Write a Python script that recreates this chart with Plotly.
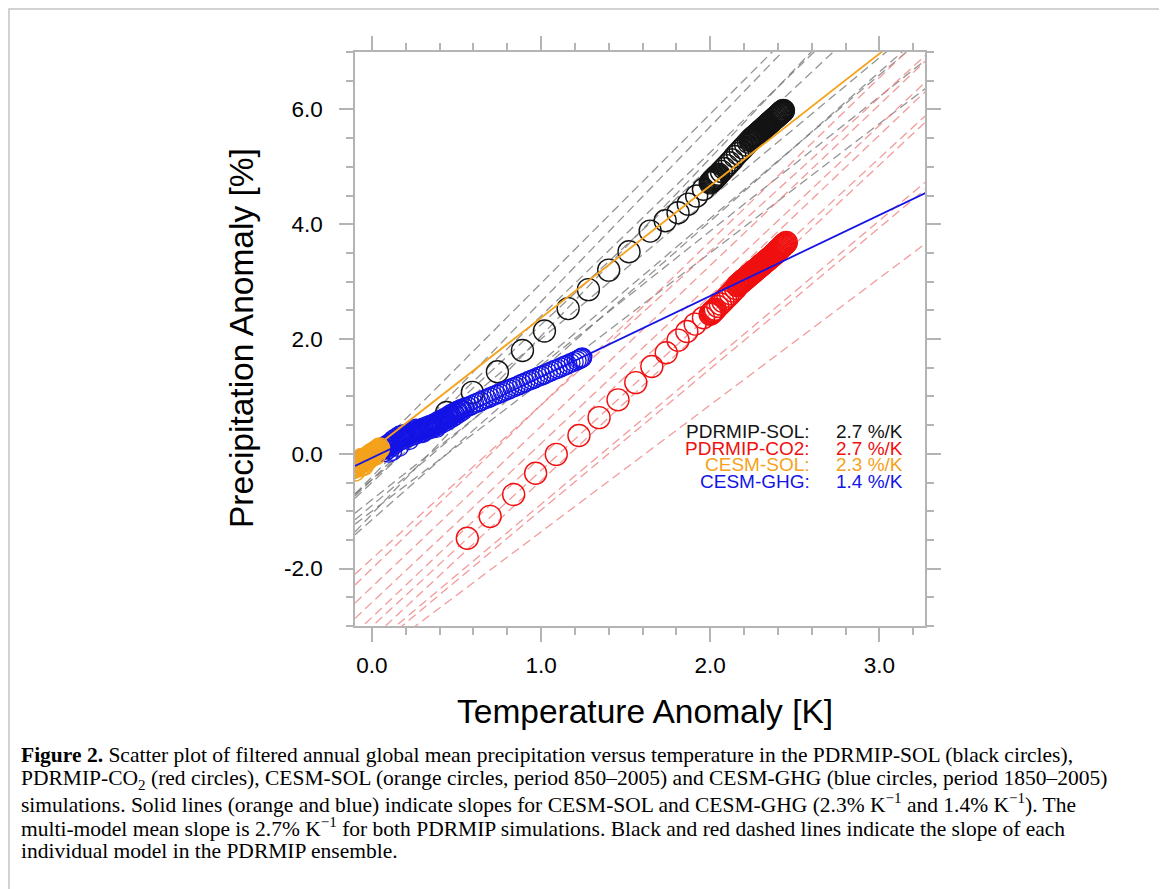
import plotly.graph_objects as go

# ---------------- data ----------------
# PDRMIP-SOL multi-model mean (black circles)
sol_T = [0.442, 0.594, 0.742, 0.89, 1.02, 1.16, 1.28, 1.40, 1.52, 1.645, 1.734, 1.81, 1.87, 1.92, 1.96, 2.00,
         2.005, 2.010, 2.015, 2.020, 2.025, 2.030, 2.035, 2.040, 2.045, 2.050,
         2.066, 2.082, 2.098, 2.114, 2.130, 2.146, 2.162, 2.178, 2.194, 2.210, 2.226,
         2.236, 2.241, 2.246, 2.251, 2.256, 2.261, 2.266, 2.271, 2.276, 2.281, 2.286, 2.291, 2.296,
         2.301, 2.306, 2.311, 2.316, 2.321, 2.326, 2.331, 2.336, 2.341, 2.346, 2.351, 2.356, 2.361,
         2.366, 2.371, 2.376, 2.381, 2.386, 2.391, 2.396, 2.401, 2.406, 2.410, 2.414, 2.417, 2.420,
         2.423, 2.425, 2.427, 2.429, 2.431, 2.433]
sol_P = [0.72, 1.07, 1.43, 1.80, 2.14, 2.53, 2.86, 3.20, 3.52, 3.88, 4.06, 4.20, 4.35, 4.49, 4.61, 4.72,
         4.735, 4.75, 4.765, 4.78, 4.795, 4.81, 4.825, 4.84, 4.855, 4.87,
         4.92, 4.97, 5.02, 5.07, 5.12, 5.18, 5.23, 5.28, 5.33, 5.38, 5.43,
         5.46, 5.475, 5.49, 5.50, 5.515, 5.53, 5.54, 5.55, 5.565, 5.58, 5.59, 5.605, 5.62,
         5.63, 5.645, 5.66, 5.67, 5.685, 5.70, 5.71, 5.725, 5.74, 5.75, 5.765, 5.78, 5.79,
         5.805, 5.82, 5.83, 5.845, 5.855, 5.87, 5.88, 5.895, 5.91, 5.92, 5.93, 5.94, 5.945,
         5.95, 5.96, 5.965, 5.97, 5.975, 5.98]

# PDRMIP-CO2 multi-model mean (red circles)
co2_T = [0.564, 0.699, 0.838, 0.968, 1.09, 1.224, 1.343, 1.455, 1.56, 1.655, 1.74, 1.81, 1.862, 1.911, 1.96,
         2.0, 2.005, 2.01, 2.015, 2.02, 2.025, 2.03,
         2.045, 2.06, 2.075, 2.09, 2.105, 2.12, 2.135, 2.15,
         2.160, 2.165, 2.170, 2.175, 2.180, 2.185, 2.190, 2.195, 2.200, 2.205,
         2.210, 2.215, 2.220, 2.225, 2.230, 2.235, 2.240, 2.245, 2.250, 2.255,
         2.260, 2.265, 2.270, 2.275, 2.280, 2.285, 2.290, 2.295, 2.300, 2.305,
         2.310, 2.315, 2.320, 2.325, 2.330, 2.335, 2.340, 2.345, 2.350, 2.355,
         2.360, 2.365, 2.370, 2.375, 2.380, 2.385, 2.390, 2.395, 2.400, 2.405,
         2.410, 2.415, 2.420, 2.425, 2.430, 2.435, 2.440, 2.445, 2.450]
co2_P = [-1.47, -1.09, -0.71, -0.34, -0.01, 0.32, 0.63, 0.94, 1.24, 1.52, 1.76, 1.98, 2.13, 2.26, 2.37,
         2.43, 2.445, 2.46, 2.475, 2.49, 2.505, 2.52,
         2.565, 2.61, 2.655, 2.70, 2.745, 2.79, 2.835, 2.88,
         2.930, 2.943, 2.955, 2.968, 2.980, 2.993, 3.005, 3.018, 3.030, 3.043,
         3.055, 3.068, 3.080, 3.093, 3.105, 3.118, 3.130, 3.143, 3.155, 3.168,
         3.180, 3.193, 3.205, 3.218, 3.230, 3.243, 3.255, 3.268, 3.280, 3.293,
         3.305, 3.318, 3.330, 3.343, 3.355, 3.368, 3.380, 3.393, 3.405, 3.418,
         3.430, 3.443, 3.455, 3.468, 3.480, 3.495, 3.510, 3.525, 3.540, 3.555,
         3.570, 3.585, 3.600, 3.615, 3.630, 3.643, 3.655, 3.670, 3.680]

# CESM-SOL (orange circles, 850-2005)
cesm_sol_T = [-0.12, -0.11, -0.10, -0.095, -0.09, -0.085, -0.08, -0.075, -0.07, -0.065, -0.06, -0.055,
              -0.05, -0.045, -0.04, -0.035, -0.03, -0.025, -0.02, -0.015, -0.01, -0.005, 0.0, 0.005,
              0.01, 0.015, 0.02, 0.025, 0.03, 0.035, 0.04, -0.06, -0.04, -0.02, 0.0, -0.08, -0.05,
              0.045, 0.02, -0.1, -0.07]
cesm_sol_P = [-0.27, -0.25, -0.24, -0.22, -0.21, -0.20, -0.19, -0.17, -0.16, -0.15, -0.14, -0.12,
              -0.11, -0.10, -0.09, -0.08, -0.06, -0.05, -0.04, -0.03, -0.02, 0.0, 0.0, 0.01,
              0.02, 0.03, 0.04, 0.05, 0.06, 0.07, 0.08, -0.08, -0.14, -0.09, -0.04, -0.13, -0.20,
              0.1, -0.02, -0.3, -0.22]

# CESM-GHG (blue circles, 1850-2005)
ghg_T = [-0.05, -0.03, -0.01, 0.0, 0.01, 0.02, 0.03, 0.04, 0.05, 0.06, 0.07, 0.08, 0.09, 0.10,
         0.11, 0.12, 0.13, 0.14, 0.15, 0.16, 0.17, 0.18, 0.19, 0.20, 0.21, 0.22, 0.23, 0.24,
         0.25, 0.26, 0.27, 0.28, 0.29, 0.30, 0.31, 0.32, 0.33, 0.34, 0.35, 0.36, 0.37, 0.38,
         0.39, 0.40, 0.41, 0.42, 0.43, 0.44, 0.45, 0.46, 0.47, 0.48, 0.49, 0.50, 0.51, 0.52, 0.53,
         0.05, 0.08, 0.10, 0.12, 0.14, 0.16, 0.18, 0.22, 0.26, 0.30, 0.34, 0.38, 0.42,
         0.065, 0.075, 0.085, 0.095, 0.105, 0.115, 0.125, 0.135, 0.145, 0.155, 0.165, 0.175,
         0.185, 0.195, 0.205, 0.215, 0.225, 0.235, 0.245, 0.255, 0.265, 0.275, 0.285, 0.295,
         0.305, 0.315, 0.325, 0.335, 0.345, 0.355, 0.365, 0.375, 0.385, 0.395, 0.405, 0.415,
         0.425, 0.435, 0.445, 0.455, 0.465, 0.475, 0.485, 0.495, 0.505, 0.515, 0.525, 0.535, 0.545,
         0.55, 0.568, 0.587, 0.605, 0.624, 0.643, 0.661, 0.68, 0.699, 0.718, 0.737, 0.756, 0.774,
         0.793, 0.812, 0.831, 0.85, 0.869, 0.888, 0.907, 0.926, 0.945, 0.964, 0.983, 1.002, 1.021,
         1.04, 1.06, 1.079, 1.098, 1.117, 1.136, 1.155, 1.174, 1.193, 1.21, 1.224, 1.234, 1.24, 1.244]
ghg_P = [-0.08, -0.05, -0.03, -0.02, 0.0, 0.01, 0.02, 0.03, 0.05, 0.06, 0.07, 0.09, 0.12, 0.14,
         0.17, 0.19, 0.21, 0.23, 0.25, 0.27, 0.28, 0.29, 0.30, 0.31, 0.32, 0.33, 0.35, 0.36,
         0.37, 0.38, 0.39, 0.40, 0.41, 0.42, 0.43, 0.44, 0.45, 0.46, 0.47, 0.49, 0.50, 0.52,
         0.53, 0.55, 0.56, 0.58, 0.60, 0.61, 0.63, 0.65, 0.66, 0.68, 0.70, 0.72, 0.74, 0.76, 0.78,
         0.10, 0.14, 0.02, 0.05, 0.22, 0.12, 0.33, 0.24, 0.44, 0.36, 0.50, 0.45, 0.60,
         0.10, 0.03, 0.14, 0.08, 0.19, 0.13, 0.24, 0.17, 0.28, 0.21, 0.32, 0.24,
         0.34, 0.26, 0.35, 0.29, 0.37, 0.31, 0.40, 0.33, 0.42, 0.35, 0.44, 0.37,
         0.46, 0.40, 0.48, 0.42, 0.50, 0.44, 0.53, 0.47, 0.56, 0.50, 0.59, 0.53,
         0.62, 0.56, 0.65, 0.60, 0.69, 0.63, 0.72, 0.67, 0.75, 0.71, 0.78, 0.75, 0.80,
         0.80, 0.82, 0.845, 0.87, 0.89, 0.915, 0.94, 0.96, 0.985, 1.01, 1.03, 1.055, 1.08,
         1.10, 1.125, 1.15, 1.17, 1.195, 1.22, 1.245, 1.27, 1.29, 1.315, 1.34, 1.36, 1.385,
         1.41, 1.435, 1.46, 1.48, 1.505, 1.53, 1.555, 1.58, 1.60, 1.625, 1.645, 1.66, 1.67, 1.68]

# individual PDRMIP model regressions (slope %/K, intercept %)
sol_model_slopes = [2.95, 3.05, 2.85, 2.75, 3.10, 2.45, 2.50, 2.34, 2.60, 2.25]
sol_model_intercepts = [0.02, -0.40, -0.45, -0.50, -1.05, -0.45, -0.90, -0.80, -1.15, -1.00]
co2_model_slopes = [2.85, 2.68, 2.80, 2.77, 2.80, 2.72, 2.75, 2.47, 2.46, 2.21]
co2_model_intercepts = [-2.00, -1.83, -2.32, -2.59, -2.85, -3.01, -3.22, -3.35, -3.44, -3.57]

# CESM regressions (slope, intercept)
cesm_sol_fit = (2.30, 0.07)
cesm_ghg_fit = (1.41, -0.07)

# slope summary text
legend_names = ["PDRMIP-SOL:", "PDRMIP-CO2:", "CESM-SOL:", "CESM-GHG:"]
legend_values = ["2.7 %/K", "2.7 %/K", "2.3 %/K", "1.4 %/K"]
legend_y = [0.394, 0.098, -0.19, -0.476]

x_ticks = [0.0, 1.0, 2.0, 3.0]
x_tick_labels = ["0.0", "1.0", "2.0", "3.0"]
y_ticks = [-2.0, 0.0, 2.0, 4.0, 6.0]
y_tick_labels = ["-2.0", "0.0", "2.0", "4.0", "6.0"]

caption_lines = [
    "<b>Figure 2.</b> Scatter plot of filtered annual global mean precipitation versus temperature in the PDRMIP-SOL (black circles),",
    "PDRMIP-CO<sub>2</sub> (red circles), CESM-SOL (orange circles, period 850–2005) and CESM-GHG (blue circles, period 1850–2005)",
    "simulations. Solid lines (orange and blue) indicate slopes for CESM-SOL and CESM-GHG (2.3% K<sup>−1</sup> and 1.4% K<sup>−1</sup>). The",
    "multi-model mean slope is 2.7% K<sup>−1</sup> for both PDRMIP simulations. Black and red dashed lines indicate the slope of each",
    "individual model in the PDRMIP ensemble.",
]

assert len(sol_T) == len(sol_P)
assert len(co2_T) == len(co2_P)
assert len(cesm_sol_T) == len(cesm_sol_P)
assert len(ghg_T) == len(ghg_P)

# ---------------- styling ----------------
XMIN, XMAX = -0.1, 3.27
YMIN, YMAX = -3.0, 7.0
BLACK = "#141414"
RED = "#f01010"
ORANGE = "#f5a21c"
BLUE = "#1414e6"
AXC = "#b4b4b4"
SANS = "Liberation Sans, Arial, Helvetica, sans-serif"
# page pixel -> paper coordinates (plot area spans page x 355..925, y 52..626)
def px(xp):
    return (xp - 355) / 570
def py(yp):
    return (626 - yp) / 574

fig = go.Figure()

for s, a in zip(sol_model_slopes, sol_model_intercepts):
    fig.add_trace(go.Scatter(x=[XMIN, XMAX + 0.1], y=[a + s * XMIN, a + s * (XMAX + 0.1)], mode="lines",
                             line=dict(color="rgba(120,120,120,0.8)", width=1.3, dash="9px,5px"),
                             hoverinfo="skip", showlegend=False))
for s, a in zip(co2_model_slopes, co2_model_intercepts):
    fig.add_trace(go.Scatter(x=[XMIN, XMAX + 0.1], y=[a + s * XMIN, a + s * (XMAX + 0.1)], mode="lines",
                             line=dict(color="rgba(238,120,120,0.75)", width=1.3, dash="9px,5px"),
                             hoverinfo="skip", showlegend=False))

fig.add_trace(go.Scatter(x=sol_T, y=sol_P, mode="markers",
                         marker=dict(symbol="circle-open", size=22, color=BLACK, line=dict(width=1.4)),
                         showlegend=False))
fig.add_trace(go.Scatter(x=co2_T, y=co2_P, mode="markers",
                         marker=dict(symbol="circle-open", size=22, color=RED, line=dict(width=1.4)),
                         showlegend=False))
fig.add_trace(go.Scatter(x=ghg_T, y=ghg_P, mode="markers",
                         marker=dict(symbol="circle-open", size=19, color=BLUE, line=dict(width=1.3)),
                         showlegend=False))
fig.add_trace(go.Scatter(x=cesm_sol_T, y=cesm_sol_P, mode="markers",
                         marker=dict(symbol="circle-open", size=20, color=ORANGE, line=dict(width=1.5)),
                         showlegend=False))

for (s, a), col in [(cesm_sol_fit, ORANGE), (cesm_ghg_fit, BLUE)]:
    fig.add_trace(go.Scatter(x=[XMIN, XMAX + 0.1], y=[a + s * XMIN, a + s * (XMAX + 0.1)], mode="lines",
                             line=dict(color=col, width=1.8), hoverinfo="skip", showlegend=False))

colors = [BLACK, RED, ORANGE, BLUE]
for name, val, yv, col in zip(legend_names, legend_values, legend_y, colors):
    fig.add_annotation(x=2.60, y=yv, xref="x", yref="y", text=name, showarrow=False,
                       xanchor="right", yanchor="middle", font=dict(family=SANS, size=19, color=col))
    fig.add_annotation(x=2.732, y=yv, xref="x", yref="y", text=val, showarrow=False,
                       xanchor="left", yanchor="middle", font=dict(family=SANS, size=19, color=col))

axis_common = dict(showline=True, linecolor=AXC, linewidth=1.5, mirror="allticks",
                   ticks="outside", ticklen=14, tickwidth=1.5, tickcolor=AXC,
                   showgrid=False, zeroline=False,
                   tickfont=dict(family=SANS, size=22.5, color="black"))

fig.update_xaxes(range=[XMIN, XMAX], tickvals=x_ticks, ticktext=x_tick_labels,
                 minor=dict(tick0=0, dtick=0.2, ticks="outside", ticklen=7, tickwidth=1.5, tickcolor=AXC),
                 ticklabelstandoff=4, **axis_common)
fig.update_yaxes(range=[YMIN, YMAX], tickvals=y_ticks, ticktext=y_tick_labels,
                 minor=dict(tick0=0, dtick=0.5, ticks="outside", ticklen=7, tickwidth=1.5, tickcolor=AXC),
                 ticklabelstandoff=12, **axis_common)

# axis titles
fig.add_annotation(x=px(645), y=py(712), xref="paper", yref="paper", text="Temperature Anomaly [K]",
                   showarrow=False, xanchor="center", yanchor="middle",
                   font=dict(family=SANS, size=33.5, color="black"))
fig.add_annotation(x=px(241), y=py(338), xref="paper", yref="paper", text="Precipitation Anomaly [%]",
                   showarrow=False, textangle=-90, xanchor="center", yanchor="middle",
                   font=dict(family=SANS, size=33.5, color="black"))

# caption, one annotation per printed line
for i, line in enumerate(caption_lines):
    fig.add_annotation(x=px(19), y=py(755 + 24 * i), xref="paper", yref="paper", text=line,
                       showarrow=False, xanchor="left", yanchor="middle", align="left",
                       font=dict(family="Liberation Serif, Times New Roman, serif", size=21.5, color="black"))

# page frame
fig.add_shape(type="rect", xref="paper", yref="paper",
              x0=px(9), x1=px(1160), y0=py(900), y1=py(9),
              line=dict(color="#c4c4c4", width=1.5), fillcolor="rgba(0,0,0,0)", layer="below")

# figure sits in the page with the browser's 8 px body margin
fig.update_layout(width=1159, height=881, margin=dict(l=347, r=242, t=44, b=263, pad=0),
                  paper_bgcolor="white", plot_bgcolor="white", showlegend=False)

fig.write_html("out.html")
